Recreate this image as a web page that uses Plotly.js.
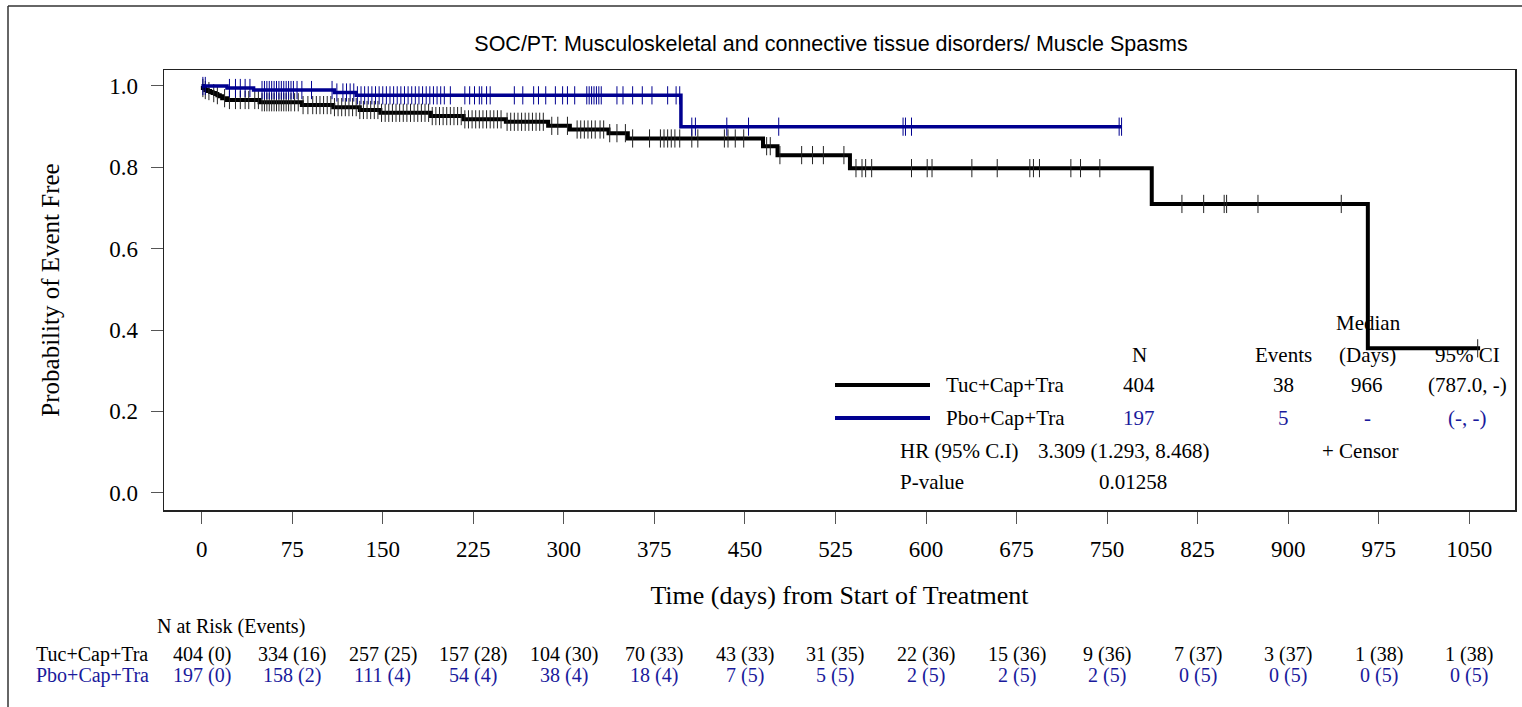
<!DOCTYPE html>
<html>
<head>
<meta charset="utf-8">
<script src="https://cdn.plot.ly/plotly-3.0.1.min.js"></script>
<style>html,body{margin:0;padding:0;background:#fff;}#chart{width:1522px;height:707px;}</style>
</head>
<body>
<div id="chart"></div>
<script>
// ---------------- data ----------------
const chartTitle = "SOC/PT: Musculoskeletal and connective tissue disorders/ Muscle Spasms";
const groupNames = ["Tuc+Cap+Tra", "Pbo+Cap+Tra"];

// Kaplan-Meier step curves (day, survival)
const tucTime = [0, 1, 3, 5, 7, 9, 11, 13, 15, 17, 21, 48, 83, 109, 131, 148, 190, 217, 252, 287, 305, 337, 353, 465, 477, 537, 787, 966, 1059];
const tucSurv = [1.0, 0.995, 0.990, 0.9875, 0.985, 0.9825, 0.980, 0.9775, 0.975, 0.970, 0.9655, 0.960, 0.953, 0.948, 0.941, 0.934, 0.926, 0.918, 0.912, 0.902, 0.893, 0.884, 0.871, 0.852, 0.830, 0.798, 0.710, 0.355, 0.355];
const pboTime = [0, 21, 43, 110, 128, 397, 762];
const pboSurv = [1.0, 0.995, 0.990, 0.984, 0.977, 0.900, 0.900];

// censored observation days
const tucCensor = [1, 3, 6, 10, 13, 19, 23, 28, 32, 36, 39, 44, 47, 50, 52, 54, 56, 58, 60, 62, 64, 66, 68, 70, 72, 74, 77, 80, 84, 88, 92, 95, 98, 101, 104, 107, 110, 113, 116, 119, 122, 125, 128, 131, 134, 137, 140, 143, 146, 149, 152, 155, 158, 161, 164, 167, 170, 173, 176, 179, 182, 185, 188, 191, 194, 197, 200, 203, 206, 209, 212, 215, 218, 221, 224, 227, 230, 233, 236, 239, 242, 245, 248, 253, 256, 259, 262, 265, 268, 271, 274, 277, 280, 283, 290, 295, 303, 311, 314, 317, 320, 323, 326, 330, 333, 338, 344, 351, 357, 371, 380, 383, 386, 389, 392, 396, 406, 411, 433, 436, 442, 449, 468, 471, 479, 497, 506, 515, 532, 542, 547, 550, 555, 588, 601, 605, 638, 659, 686, 689, 694, 720, 728, 744, 812, 830, 847, 849, 875, 944, 1057];
const pboCensor = [1, 3, 23, 28, 32, 36, 40, 50, 52, 54, 56, 58, 60, 62, 64, 66, 68, 70, 72, 74, 76, 79, 83, 91, 108, 112, 117, 120, 123, 126, 129, 132, 135, 138, 141, 144, 147, 150, 153, 156, 159, 162, 165, 168, 171, 174, 177, 180, 183, 186, 189, 192, 195, 198, 201, 206, 218, 222, 226, 230, 232, 236, 239, 259, 266, 275, 279, 285, 293, 299, 303, 309, 319, 321, 323, 325, 327, 329, 331, 344, 349, 357, 365, 373, 386, 393, 396, 406, 409, 435, 453, 478, 581, 583, 588, 760, 762];

// axis ticks
const xTicks = [0, 75, 150, 225, 300, 375, 450, 525, 600, 675, 750, 825, 900, 975, 1050];
const yTicks = [0.0, 0.2, 0.4, 0.6, 0.8, 1.0];

// number at risk (events)
const tucRisk   = [404, 334, 257, 157, 104, 70, 43, 31, 22, 15, 9, 7, 3, 1, 1];
const tucRiskEv = [0, 16, 25, 28, 30, 33, 33, 35, 36, 36, 36, 37, 37, 38, 38];
const pboRisk   = [197, 158, 111, 54, 38, 18, 7, 5, 2, 2, 2, 0, 0, 0, 0];
const pboRiskEv = [0, 2, 4, 4, 4, 4, 5, 5, 5, 5, 5, 5, 5, 5, 5];

// summary statistics
const statHeader = ["N", "Events", "(Days)", "95% CI"];
const tucStats = ["404", "38", "966", "(787.0, -)"];
const pboStats = ["197", "5", "-", "(-, -)"];
const hrText = "3.309 (1.293, 8.468)";
const pText = "0.01258";

// ---------------- rendering ----------------
const BLACK = "#000000", BLUE = "#000090", BLUE_T = "#1a1a9c";
const SERIF = "Liberation Serif, Times New Roman, serif";
const SANS = "Liberation Sans, Arial, sans-serif";

const L = 164, R = 1515, T = 70, B = 510;
const px = x => (x - L) / (R - L);
const py = y => (B - y) / (B - T);

function survAt(times, surv, t) {
  let v = surv[0];
  for (let i = 0; i < times.length; i++) { if (times[i] <= t) v = surv[i]; }
  return v;
}

const traces = [
  {x: tucTime, y: tucSurv, mode: "lines", line: {shape: "hv", color: BLACK, width: 4}, hoverinfo: "skip", showlegend: false},
  {x: tucCensor, y: tucCensor.map(t => survAt(tucTime, tucSurv, t)), mode: "markers",
   marker: {symbol: "line-ns-open", size: 13, color: "#222", line: {width: 1, color: "#222"}}, showlegend: false, hoverinfo: "skip"},
  {x: pboTime, y: pboSurv, mode: "lines", line: {shape: "hv", color: BLUE, width: 3.5}, hoverinfo: "skip", showlegend: false},
  {x: pboCensor, y: pboCensor.map(t => survAt(pboTime, pboSurv, t)), mode: "markers",
   marker: {symbol: "line-ns-open", size: 13, color: BLUE, line: {width: 1, color: BLUE}}, showlegend: false, hoverinfo: "skip"}
];

const ann = [];
function addText(text, x, y, anchor, color, size, xref) {
  ann.push({text: text, x: xref === "x" ? x : px(x), y: py(y), xref: xref || "paper", yref: "paper",
    xanchor: anchor, yanchor: "middle", showarrow: false,
    font: {family: SERIF, size: size || 21, color: color || BLACK}});
}

// stats table inside the plot
addText("Median", 1368, 323, "center");
const hdrX = [1139, 1283, 1367, 1467];
statHeader.forEach((h, i) => addText(h, hdrX[i], 355, "center"));
addText(groupNames[0], 944, 385, "left");
tucStats.forEach((s, i) => addText(s, hdrX[i], 385, "center"));
addText(groupNames[1], 944, 418, "left");
pboStats.forEach((s, i) => addText(s, hdrX[i], 418, "center", BLUE_T));
addText("HR (95% C.I)", 898, 451, "left");
addText(hrText, 1036, 451, "left");
addText("+ Censor", 1320, 451, "left");
addText("P-value", 898, 482, "left");
addText(pText, 1097, 482, "left");

// number at risk table
addText("N at Risk (Events)", 155, 626, "left", BLACK, 20);
addText(groupNames[0], 34, 654, "left", BLACK, 20);
addText(groupNames[1], 34, 675, "left", BLUE_T, 20);
xTicks.forEach((t, i) => {
  addText(tucRisk[i] + " (" + tucRiskEv[i] + ")", t, 654, "center", BLACK, 20, "x");
  addText(pboRisk[i] + " (" + pboRiskEv[i] + ")", t, 675, "center", BLUE_T, 20, "x");
});

const shapes = [
  // outer frame
  {type: "line", xref: "paper", yref: "paper", x0: px(8), x1: px(8), y0: py(6), y1: py(712), line: {color: "#333", width: 1.5}},
  {type: "line", xref: "paper", yref: "paper", x0: px(8), x1: px(1530), y0: py(6), y1: py(6), line: {color: "#333", width: 1.5}},
  // legend line samples
  {type: "line", xref: "paper", yref: "paper", x0: px(835), x1: px(930), y0: py(385), y1: py(385), line: {color: BLACK, width: 4}},
  {type: "line", xref: "paper", yref: "paper", x0: px(835), x1: px(930), y0: py(418), y1: py(418), line: {color: BLUE, width: 4}}
];

const layout = {
  width: 1522, height: 707,
  margin: {l: L, r: 1522 - R, t: T, b: 707 - B, pad: 0},
  paper_bgcolor: "#fff", plot_bgcolor: "#fff",
  showlegend: false,
  title: {text: chartTitle, x: 831 / 1522, xref: "container", xanchor: "center",
          y: 1 - 43 / 707, yref: "container", yanchor: "middle",
          font: {family: SANS, size: 21.5, color: BLACK}},
  xaxis: {range: [-31.2, 1087.9], tickvals: xTicks, ticktext: xTicks.map(String),
          ticks: "outside", ticklen: 12, tickwidth: 1, tickcolor: "#555",
          showline: true, mirror: true, linecolor: "#222", linewidth: 1.5,
          showgrid: false, zeroline: false, ticklabelstandoff: 6,
          tickfont: {family: SERIF, size: 23, color: BLACK},
          title: {text: "Time (days) from Start of Treatment", standoff: 24,
                  font: {family: SERIF, size: 26, color: BLACK}},
          automargin: false, fixedrange: true},
  yaxis: {range: [-0.0425, 1.0393], tickvals: yTicks, tickformat: ".1f",
          ticks: "outside", ticklen: 12, tickwidth: 1, tickcolor: "#555",
          showline: true, mirror: true, linecolor: "#222", linewidth: 1.5,
          showgrid: false, zeroline: false, ticklabelstandoff: 8,
          tickfont: {family: SERIF, size: 23, color: BLACK},
          title: {text: "Probability of Event Free", standoff: 42,
                  font: {family: SERIF, size: 25, color: BLACK}},
          automargin: false, fixedrange: true},
  annotations: ann,
  shapes: shapes
};

Plotly.newPlot("chart", traces, layout, {displayModeBar: false, staticPlot: true});
</script>
</body>
</html>
